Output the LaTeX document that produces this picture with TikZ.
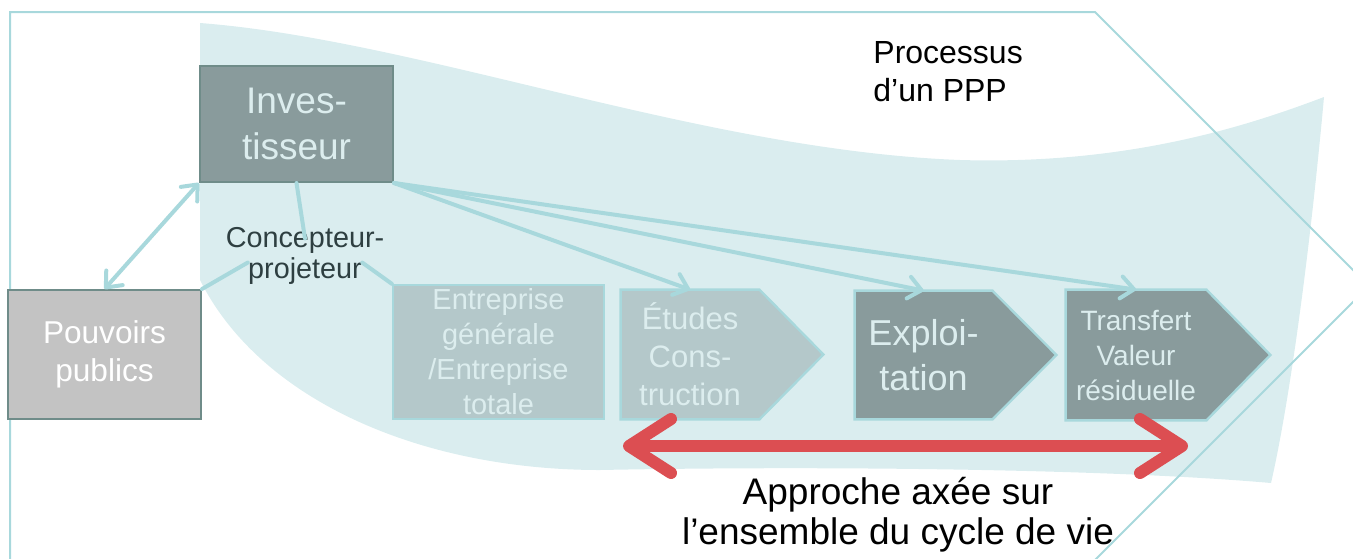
\documentclass[tikz,border=0pt]{standalone}
\usepackage{fontspec}
\setmainfont{Liberation Sans}
\usetikzlibrary{arrows.meta,calc,backgrounds}

\definecolor{bleuzone}{HTML}{DAEDEF}
\definecolor{bleutrait}{HTML}{A8D8DC}
\definecolor{grisfonce}{HTML}{899B9C}
\definecolor{grisclair}{HTML}{B4C8CA}
\definecolor{grisneutre}{HTML}{C3C3C3}
\definecolor{bordfonce}{HTML}{6F8C89}
\definecolor{textebloc}{HTML}{DCEDEE}
\definecolor{texteconc}{HTML}{2E3F41}
\definecolor{rougecycle}{HTML}{DC4E52}

\begin{document}
\begin{tikzpicture}[x=0.5pt,y=-0.5pt,
  caja/.style={rectangle, align=center, inner sep=0pt, text=textebloc},
  etapa/.style={rectangle, align=center, inner sep=0pt, text=textebloc},
  trait/.style={bleutrait, line width=2pt, line cap=round},
  fleche/.style={trait, -{Straight Barb[length=6.5pt,width=11pt,round]}},
  cadre/.style={bleutrait, line width=1pt}]
\useasboundingbox (0,0) rectangle (1353,558);
\clip (0,0) rectangle (1353,558);

% Cadre
\draw[cadre] (10,600) -- (10,12) -- (1095,12) -- (1369,286) -- (1050,605);

% Acteurs
\node[caja, fill=grisfonce, draw=bordfonce, line width=1pt, minimum width=96.5pt, minimum height=58pt,
  font=\fontsize{18.5}{23}\selectfont] (investisseur) at (296.5,124) {Inves-\\tisseur};
\node[caja, fill=grisneutre, draw=bordfonce, line width=1pt, text=white, minimum width=96.5pt, minimum height=64.5pt,
  font=\fontsize{15.8}{19}\selectfont] (pouvoirs) at (104.5,354.5) {Pouvoirs\\publics};
\node[caja, fill=grisclair, draw=bleutrait, line width=1.2pt, minimum width=105.5pt, minimum height=67pt,
  font=\fontsize{14.5}{17.5}\selectfont] (entreprise) at (498.5,352) {Entreprise\\générale\\/Entreprise\\totale};
\node[text=texteconc, inner sep=0pt, anchor=base, font=\fontsize{14.4}{15.5}\selectfont] (concepteur) at (305,247) {Concepteur-};
\node[text=texteconc, inner sep=0pt, anchor=base, font=\fontsize{14.4}{15.5}\selectfont] (projeteur) at (305,278) {projeteur};

% Etapes
\node[etapa, minimum width=69pt, minimum height=64.5pt, font=\fontsize{15.5}{19}\selectfont]
  (etudes) at (690,354.5) {Études\\Cons-\\truction};
\node[etapa, minimum width=68.5pt, minimum height=64pt, font=\fontsize{18}{22.5}\selectfont]
  (exploitation) at (923.5,355) {Exploi-\\tation};
\node[etapa, minimum width=70pt, minimum height=65pt, font=\fontsize{14}{17.5}\selectfont]
  (transfert) at (1136,355) {Transfert\\Valeur\\résiduelle};

% Fond du processus
\begin{scope}[on background layer]
\fill[bleuzone] (200,23) .. controls (420,40) and (700,150) .. (960,160)
  .. controls (1130,165) and (1250,125) .. (1324,97)
  .. controls (1310,250) and (1290,400) .. (1271,483)
  .. controls (1100,468) and (800,466) .. (600,470)
  .. controls (420,470) and (260,400) .. (200,280) -- cycle;
\foreach \n/\c in {etudes/grisclair, exploitation/grisfonce, transfert/grisfonce}
  \filldraw[fill=\c, draw=bleutrait, line width=1.2pt, line join=miter]
    (\n.north west) -- (\n.north east) -- ($(\n.east)+(64,0)$) -- (\n.south east) -- (\n.south west) -- cycle;
\end{scope}

% Liens
\draw[trait, {Straight Barb[length=6.5pt,width=11pt,round]}-{Straight Barb[length=6.5pt,width=11pt,round]}]
  (pouvoirs.north) -- (investisseur.south west);
\draw[trait] (investisseur.south) -- ([yshift=-6pt]concepteur.north);
\draw[trait] ([yshift=4pt]projeteur.west) -- (pouvoirs.north east);
\draw[trait] ([yshift=4pt]projeteur.east) -- (entreprise.north west);
\foreach \n in {etudes, exploitation, transfert}
  \draw[fleche] (investisseur.south east) -- (\n.north);

% Cycle de vie
\coordinate (cycleg) at (623,446);
\coordinate (cycled) at (1188,446);
\draw[rougecycle, line width=6pt,
  {Straight Barb[length=21pt,width=27pt,round]}-{Straight Barb[length=21pt,width=27pt,round]}]
  (cycleg) -- (cycled);

% Textes
\node[align=left, anchor=north west, inner sep=0pt, font=\fontsize{16}{19}\selectfont]
  (processus) at (873,41) {Processus\\d’un PPP};
\node[align=center, inner sep=0pt, font=\fontsize{18.5}{20}\selectfont]
  (approche) at (898,515) {Approche axée sur\\l’ensemble du cycle de vie};

\end{tikzpicture}
\end{document}
